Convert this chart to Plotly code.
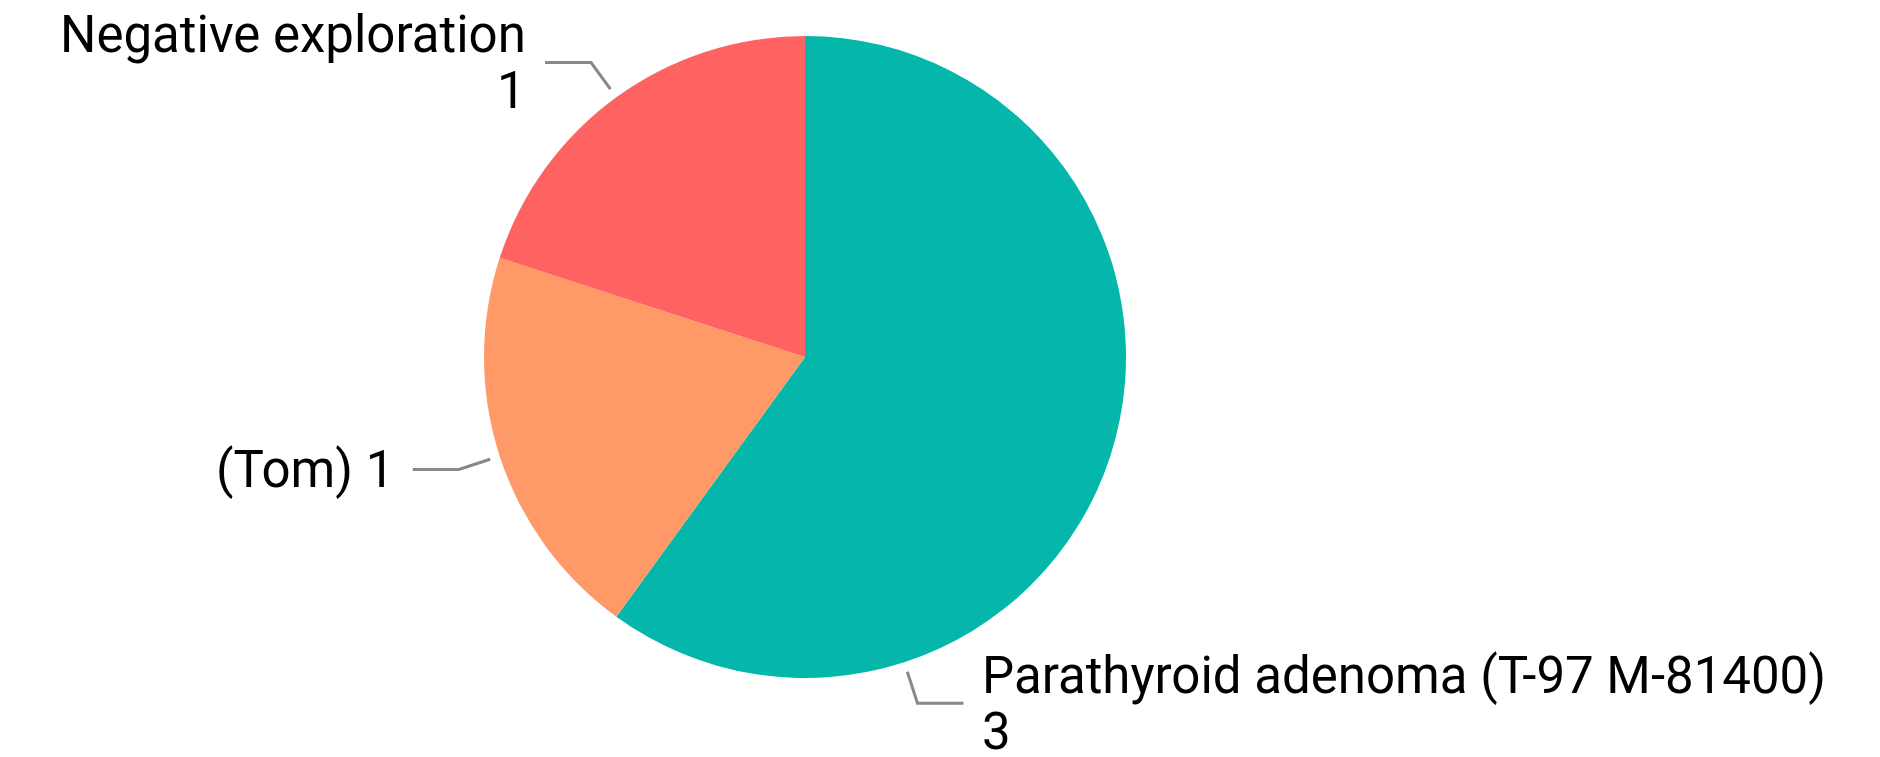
import numpy as np
import plotly.graph_objects as go

# Slice data
labels = ["Parathyroid adenoma (T-97 M-81400)", "(Tom)", "Negative exploration"]
values = [3, 1, 1]
colors = ["#04B7AA", "#FF9A68", "#FF6361"]
# where along each slice the callout is attached (0 = slice start, 1 = slice end)
label_pos = [0.75, 0.5, 0.5]
# label lines: long names put the count on its own line
label_lines = [[l, str(v)] if len(l) > 10 else [f"{l} {v}"] for l, v in zip(labels, values)]

W, H = 1880, 757
cx, cy, r = 805.0, 357.0, 321.0  # pie centre / radius in px
FONT_SIZE = 51
LINE_GAP = 56  # px between stacked label lines

dom_x = [(cx - r) / W, (cx + r) / W]
dom_y = [1 - (cy + r) / H, 1 - (cy - r) / H]

fig = go.Figure(go.Pie(
    labels=labels, values=values, sort=False, direction="clockwise", rotation=0,
    marker=dict(colors=colors, line=dict(width=0)),
    textinfo="none", hoverinfo="label+value",
    domain=dict(x=dom_x, y=dom_y), showlegend=False,
))

def px2paper(x, y):
    return x / W, 1 - y / H

total = float(sum(values))
start = 0.0
shapes, annotations = [], []
for lines, v, f in zip(label_lines, values, label_pos):
    span = v / total * 360.0
    ang = np.radians(start + f * span)  # clockwise from 12 o'clock
    start += span
    ux, uy = np.sin(ang), -np.cos(ang)
    x0, y0 = cx + (r + 10) * ux, cy + (r + 10) * uy
    x1, y1 = cx + (r + 43) * ux, cy + (r + 43) * uy
    side = 1 if ux >= 0 else -1
    x2 = x1 + side * 46
    p0, p1, p2 = px2paper(x0, y0), px2paper(x1, y1), px2paper(x2, y1)
    shapes.append(dict(
        type="path", xref="paper", yref="paper",
        path=f"M {p0[0]} {p0[1]} L {p1[0]} {p1[1]} L {p2[0]} {p2[1]}",
        line=dict(color="#888888", width=3),
    ))
    n = len(lines)
    for i, line in enumerate(lines):
        ly = y1 + (i - (n - 1) / 2) * LINE_GAP
        tx, ty = px2paper(x2 + side * 18, ly)
        annotations.append(dict(
            x=tx, y=ty, xref="paper", yref="paper", text=line, showarrow=False,
            xanchor="left" if side > 0 else "right", yanchor="middle",
            borderpad=0,
            font=dict(size=FONT_SIZE, color="#000000", family="Roboto"),
        ))

fig.update_layout(
    width=W, height=H, margin=dict(l=0, r=0, t=0, b=0),
    paper_bgcolor="white", plot_bgcolor="white",
    shapes=shapes, annotations=annotations,
)

fig.write_html("out.html")
